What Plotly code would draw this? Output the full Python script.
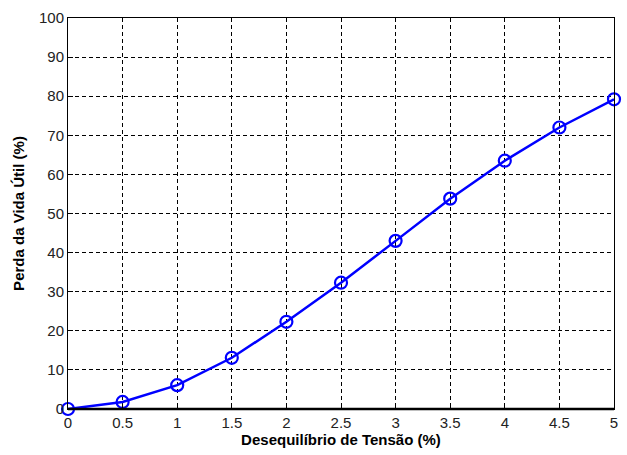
import plotly.graph_objects as go

x_vals = [0, 0.5, 1, 1.5, 2, 2.5, 3, 3.5, 4, 4.5, 5]
y_vals = [0, 1.8, 6.1, 13.1, 22.3, 32.3, 43.0, 53.8, 63.5, 72.0, 79.2]
x_ticks = [0, 0.5, 1, 1.5, 2, 2.5, 3, 3.5, 4, 4.5, 5]
y_ticks = [0, 10, 20, 30, 40, 50, 60, 70, 80, 90, 100]

fig = go.Figure()
fig.add_trace(go.Scatter(
    x=x_vals, y=y_vals, mode="lines+markers",
    line=dict(color="#0000ff", width=2.5),
    marker=dict(symbol="circle-open", size=12, color="#0000ff", line=dict(width=2.2, color="#0000ff")),
    showlegend=False, cliponaxis=False,
))

axis_common = dict(
    showgrid=True, gridcolor="black", griddash="4px,3px", gridwidth=1,
    showline=True, linecolor="black", linewidth=1, mirror=True,
    zeroline=False, ticks="inside", ticklen=5, tickcolor="black",
    tickfont=dict(family="Arial, Liberation Sans", size=15, color="#222"),
)

fig.update_xaxes(range=[0, 5], tickvals=x_ticks, ticktext=[str(t) for t in x_ticks],
                 title=dict(text="<b>Desequilíbrio de Tensão (%)</b>",
                            font=dict(family="Arial, Liberation Sans", size=15, color="black"), standoff=4),
                 **axis_common)
fig.update_yaxes(range=[0, 100], tickvals=y_ticks, ticktext=[str(t) for t in y_ticks],
                 title=dict(text="<b>Perda da Vida Útil (%)</b>",
                            font=dict(family="Arial, Liberation Sans", size=15, color="black"), standoff=10),
                 **axis_common)

fig.add_shape(type="line", xref="paper", yref="paper", x0=0, x1=1, y0=0, y1=0,
              line=dict(color="black", width=2.5))

fig.update_layout(
    width=627, height=455,
    margin=dict(l=68, r=9, t=15, b=45),
    plot_bgcolor="white", paper_bgcolor="white",
)

fig.write_html("out.html")
